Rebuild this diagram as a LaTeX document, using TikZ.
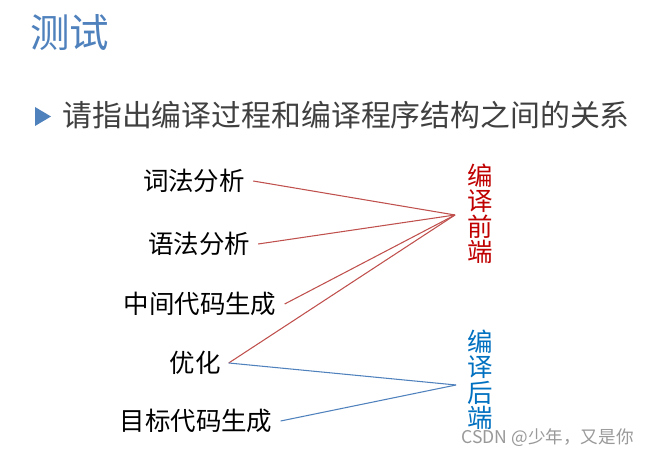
\documentclass[tikz,border=0pt]{standalone}
\usepackage{fontspec}
\newfontfamily\cjk{Noto Sans CJK SC}
\usepackage{xcolor}
\definecolor{azultitulo}{RGB}{79, 129, 189}
\definecolor{cinzatexto}{RGB}{64, 64, 64}
\definecolor{vermelholinha}{RGB}{192, 80, 77}
\definecolor{vermelhotexto}{RGB}{192, 0, 0}
\definecolor{azullinha}{RGB}{79, 129, 189}
\definecolor{azultexto}{RGB}{0, 112, 192}
\usetikzlibrary{positioning}

\begin{document}
\begin{tikzpicture}[
    x=0.02cm, y=-0.02cm,
    etapa/.style={
        inner xsep=4.5pt,
        inner ysep=1pt,
        font=\cjk\fontsize{14.5}{17}\selectfont,
        text=black
    },
    lado/.style={
        inner sep=0pt,
        align=center,
        font=\cjk\fontsize{14.5}{14.5}\selectfont
    },
    ligafrente/.style={
        vermelholinha,
        line width=0.6pt
    },
    ligatras/.style={
        azullinha,
        line width=0.6pt
    }
]

\path[use as bounding box, fill=white] (0,0) rectangle (650,455);

% =================================================
% TITULO
% =================================================

\node[
    anchor=west, inner sep=0pt,
    font=\cjk\fontsize{22.5}{26}\selectfont,
    text=azultitulo
] (titulo) at (30,33)
{测试};

\fill[azultitulo] (35,107) -- (51,116.5) -- (35,126) -- cycle;

\node[
    anchor=west, inner sep=0pt,
    font=\cjk\fontsize{17}{20}\selectfont,
    text=cinzatexto
] (pergunta) at (62,115)
{请指出编译过程和编译程序结构之间的关系};

% =================================================
% ETAPAS
% =================================================

\node[etapa] (lex) at (194,181)
{词法分析};

\node[etapa] (sint) at (199,244)
{语法分析};

\node[etapa] (inter) at (200,304)
{中间代码生成};

\node[etapa] (otim) at (195,363)
{优化};

\node[etapa] (alvo) at (196,421)
{目标代码生成};

% =================================================
% FRENTE E TRAS
% =================================================

\node[lado, text=vermelhotexto] (frente) at (480,214)
{编\\译\\前\\端};

\node[lado, text=azultexto] (tras) at (480,380)
{编\\译\\后\\端};

\coordinate (pf) at (455,215);
\coordinate (pt) at (456,385);

\draw[ligafrente] (lex.east) -- (pf);
\draw[ligafrente] (sint.east) -- (pf);
\draw[ligafrente] (inter.east) -- (pf);
\draw[ligafrente] (otim.east) -- (pf);

\draw[ligatras] (otim.east) -- (pt);
\draw[ligatras] (alvo.east) -- (pt);

\node[
    anchor=east, inner sep=0pt,
    font=\cjk\fontsize{10}{12}\selectfont,
    text=gray!80
] (marca) at (634,438)
{CSDN @少年，又是你};

\end{tikzpicture}
\end{document}
